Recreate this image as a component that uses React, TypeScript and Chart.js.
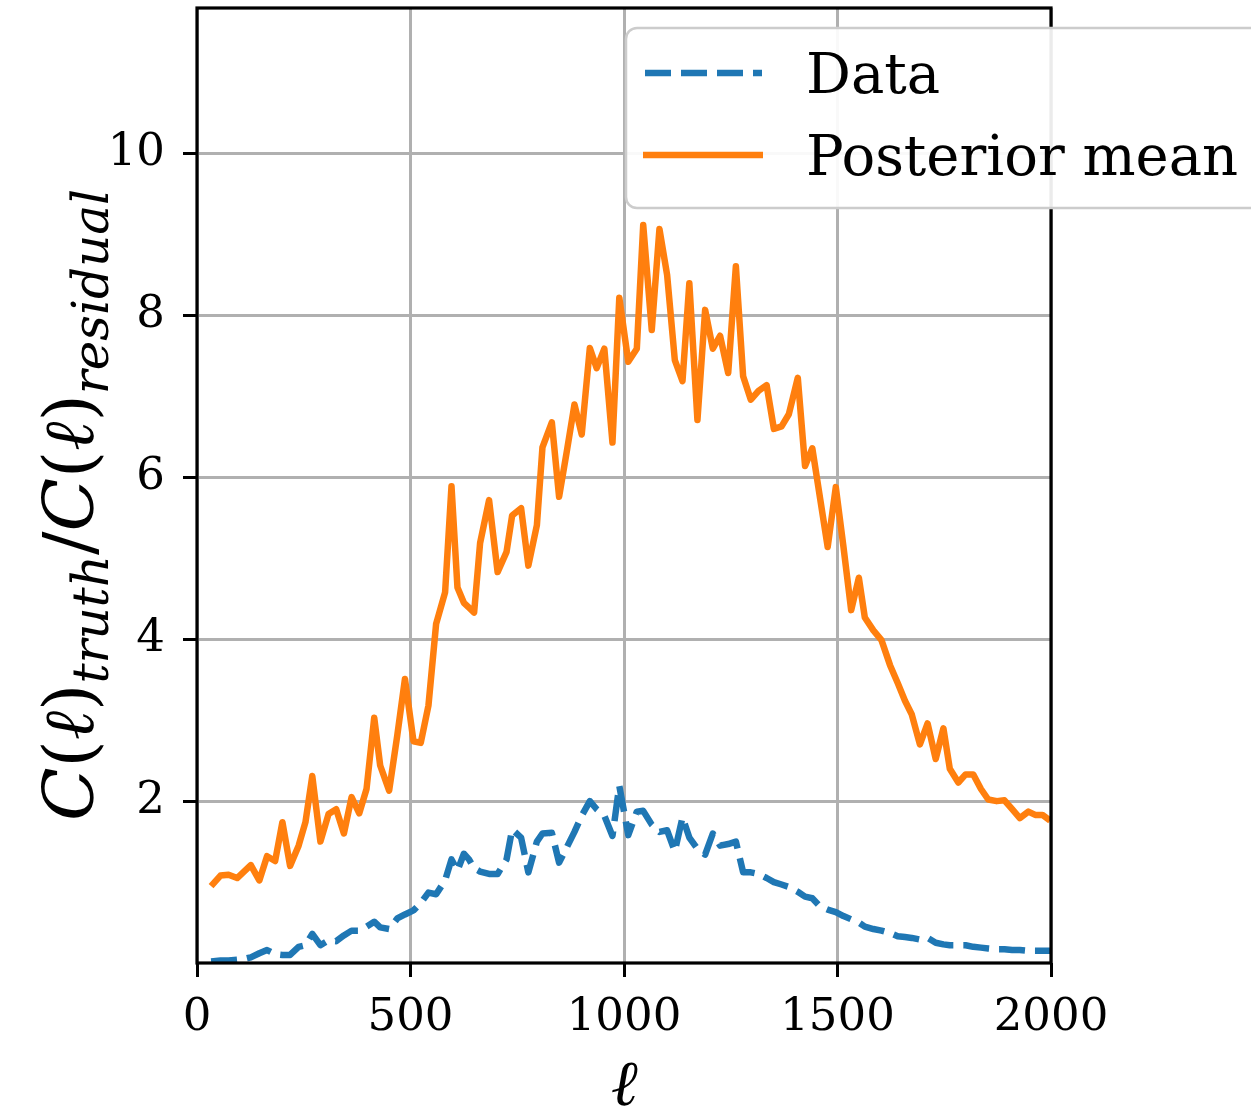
import React, { useEffect, useRef } from "react";
import { Chart, registerables } from "chart.js";

Chart.register(...registerables);

// multipole ell (x values)
const ell = [
  33, 55, 74, 94, 110, 126, 146, 164, 183, 200, 218, 238, 254, 270, 289, 308, 326, 344, 362, 380,
  397, 415, 429, 450, 469, 487, 507, 524, 542, 560, 581, 596, 610, 625, 637, 649, 663, 684, 704, 725,
  738, 759, 776, 796, 809, 831, 848, 866, 884, 901, 920, 936, 954, 973, 989, 1010, 1030, 1045, 1065, 1083,
  1101, 1119, 1137, 1153, 1172, 1190, 1208, 1225, 1244, 1262, 1279, 1297, 1315, 1334, 1351, 1369, 1386, 1407, 1424, 1441,
  1459, 1477, 1496, 1514, 1532, 1550, 1564, 1584, 1603, 1623, 1641, 1658, 1674, 1693, 1711, 1730, 1748, 1763, 1783, 1800,
  1818, 1836, 1853, 1873, 1891, 1909, 1927, 1947, 1963, 1980, 1998,
];

// "Data" series (blue dashed)
const dataValues = [
  0.02, 0.03, 0.03, 0.04, 0.05, 0.07, 0.12, 0.16, 0.11, 0.10, 0.10, 0.20, 0.22, 0.36, 0.22, 0.28, 0.27, 0.34, 0.40, 0.40,
  0.45, 0.51, 0.44, 0.42, 0.55, 0.60, 0.65, 0.74, 0.87, 0.85, 1.02, 1.28, 1.14, 1.35, 1.28, 1.17, 1.13, 1.10, 1.10, 1.28,
  1.65, 1.55, 1.12, 1.50, 1.60, 1.61, 1.24, 1.43, 1.62, 1.82, 2.00, 1.90, 1.82, 1.57, 2.19, 1.58, 1.87, 1.88, 1.71, 1.62,
  1.64, 1.38, 1.80, 1.55, 1.41, 1.34, 1.60, 1.45, 1.47, 1.50, 1.12, 1.12, 1.10, 1.05, 1.00, 0.97, 0.94, 0.88, 0.82, 0.80,
  0.70, 0.66, 0.63, 0.58, 0.54, 0.50, 0.45, 0.42, 0.40, 0.37, 0.33, 0.32, 0.31, 0.29, 0.31, 0.25, 0.23, 0.22, 0.22, 0.22,
  0.20, 0.19, 0.18, 0.17, 0.17, 0.16, 0.16, 0.15, 0.15, 0.15, 0.15,
];

// "Posterior mean" series (orange solid)
const posteriorMean = [
  0.95, 1.08, 1.09, 1.05, 1.13, 1.21, 1.02, 1.32, 1.26, 1.74, 1.20, 1.45, 1.74, 2.31, 1.50, 1.84, 1.90, 1.60, 2.05, 1.85,
  2.15, 3.03, 2.44, 2.13, 2.81, 3.51, 2.74, 2.72, 3.18, 4.19, 4.58, 5.89, 4.64, 4.45, 4.39, 4.33, 5.19, 5.72, 4.83, 5.08,
  5.53, 5.62, 4.91, 5.41, 6.37, 6.68, 5.76, 6.32, 6.90, 6.53, 7.60, 7.35, 7.59, 6.43, 8.22, 7.43, 7.59, 9.12, 7.82, 9.07,
  8.50, 7.45, 7.19, 8.40, 6.71, 8.07, 7.59, 7.75, 7.29, 8.61, 7.25, 6.96, 7.07, 7.14, 6.60, 6.63, 6.78, 7.23, 6.14, 6.36,
  5.75, 5.14, 5.88, 5.14, 4.36, 4.76, 4.27, 4.11, 3.99, 3.68, 3.46, 3.24, 3.07, 2.70, 2.96, 2.52, 2.90, 2.40, 2.23, 2.33,
  2.33, 2.15, 2.02, 2.00, 2.01, 1.90, 1.79, 1.87, 1.83, 1.83, 1.76,
];

const xTicks = [0, 500, 1000, 1500, 2000];
const yTicks = [2, 4, 6, 8, 10];
const legendLabels = ["Data", "Posterior mean"];
const xTitle = "ℓ";

const BLUE = "#1f77b4";
const ORANGE = "#ff7f0e";
const SERIF = '"DejaVu Serif", "Liberation Serif", serif';
const LW = 6.5;
const DASH = [26, 10];

export default function App() {
  const ref = useRef<HTMLCanvasElement | null>(null);

  useEffect(() => {
    const canvas = ref.current;
    if (!canvas) return;

    const overlay = {
      id: "overlay",
      afterDraw(chart: any) {
        const ctx = chart.ctx as CanvasRenderingContext2D;
        const a = chart.chartArea;
        ctx.save();
        // spines
        ctx.strokeStyle = "#000";
        ctx.lineWidth = 3.2;
        ctx.strokeRect(a.left, a.top, a.right - a.left, a.bottom - a.top);

        // x title
        ctx.fillStyle = "#000";
        ctx.font = `italic 64px ${SERIF}`;
        ctx.textAlign = "center";
        ctx.textBaseline = "alphabetic";
        ctx.fillText(xTitle, (a.left + a.right) / 2, 1105);

        // y title (math-like, rotated)
        const big = 70;
        const sub = 50;
        const segs: { t: string; f: string; dy: number }[] = [
          { t: "C", f: `italic ${big}px ${SERIF}`, dy: 0 },
          { t: "(", f: `${big}px ${SERIF}`, dy: 0 },
          { t: "ℓ", f: `italic ${big}px ${SERIF}`, dy: 0 },
          { t: ")", f: `${big}px ${SERIF}`, dy: 0 },
          { t: "truth", f: `italic ${sub}px ${SERIF}`, dy: 15 },
          { t: "/", f: `${big}px ${SERIF}`, dy: 0 },
          { t: "C", f: `italic ${big}px ${SERIF}`, dy: 0 },
          { t: "(", f: `${big}px ${SERIF}`, dy: 0 },
          { t: "ℓ", f: `italic ${big}px ${SERIF}`, dy: 0 },
          { t: ")", f: `${big}px ${SERIF}`, dy: 0 },
          { t: "residual", f: `italic ${sub}px ${SERIF}`, dy: 15 },
        ];
        let total = 0;
        const widths = segs.map((s) => {
          ctx.font = s.f;
          const w = ctx.measureText(s.t).width;
          total += w;
          return w;
        });
        ctx.translate(55, 505);
        ctx.rotate(-Math.PI / 2);
        ctx.textAlign = "left";
        let cx = -total / 2;
        segs.forEach((s, i) => {
          ctx.font = s.f;
          ctx.fillText(s.t, cx, 38 + s.dy);
          cx += widths[i];
        });
        ctx.setTransform(1, 0, 0, 1, 0, 0);

        // legend
        const bx = 626, by = 28, bw = 720, bh = 180;
        ctx.beginPath();
        (ctx as any).roundRect(bx, by, bw, bh, 11);
        ctx.fillStyle = "rgba(255,255,255,0.92)";
        ctx.fill();
        ctx.strokeStyle = "#cccccc";
        ctx.lineWidth = 2.5;
        ctx.stroke();

        ctx.lineWidth = LW;
        ctx.strokeStyle = BLUE;
        ctx.setLineDash(DASH);
        ctx.beginPath();
        ctx.moveTo(645, 73);
        ctx.lineTo(762, 73);
        ctx.stroke();
        ctx.setLineDash([]);
        ctx.strokeStyle = ORANGE;
        ctx.beginPath();
        ctx.moveTo(643, 155);
        ctx.lineTo(763, 155);
        ctx.stroke();

        ctx.fillStyle = "#000";
        ctx.font = `56px ${SERIF}`;
        ctx.textAlign = "left";
        ctx.textBaseline = "alphabetic";
        ctx.fillText(legendLabels[0], 806, 93);
        ctx.fillText(legendLabels[1], 806, 175);
        ctx.restore();
      },
    };

    const chart = new Chart(canvas, {
      type: "line",
      data: {
        datasets: [
          {
            label: legendLabels[1],
            data: ell.map((x, i) => ({ x, y: posteriorMean[i] })),
            borderColor: ORANGE,
            backgroundColor: ORANGE,
            borderWidth: LW,
            pointRadius: 0,
            tension: 0,
            borderJoinStyle: "round",
            borderCapStyle: "butt",
            fill: false,
          },
          {
            label: legendLabels[0],
            data: ell.map((x, i) => ({ x, y: dataValues[i] })),
            borderColor: BLUE,
            backgroundColor: BLUE,
            borderWidth: LW,
            borderDash: DASH,
            pointRadius: 0,
            tension: 0,
            borderJoinStyle: "round",
            borderCapStyle: "butt",
            fill: false,
          },
        ],
      },
      options: {
        responsive: false,
        devicePixelRatio: 1,
        animation: false,
        events: [],
        layout: { padding: { left: 0, top: 8, right: 200, bottom: 0 } },
        plugins: {
          legend: { display: false },
          tooltip: { enabled: false },
          title: { display: false },
        },
        scales: {
          x: {
            type: "linear",
            min: 0,
            max: 2000,
            afterBuildTicks: (s: any) => {
              s.ticks = xTicks.map((v) => ({ value: v }));
            },
            afterFit: (s: any) => {
              s.height = 151;
              s.paddingLeft = 0;
              s.paddingRight = 0;
            },
            ticks: {
              color: "#000",
              font: { family: SERIF, size: 45 },
              padding: 14,
              maxRotation: 0,
              autoSkip: false,
              callback: (v: any) => String(v),
            },
            grid: {
              color: "#b0b0b0",
              lineWidth: 3,
              tickColor: "#000",
              tickLength: 14,
              tickWidth: 3,
            },
            border: { display: false },
          },
          y: {
            type: "linear",
            min: 0,
            max: 11.8,
            afterBuildTicks: (s: any) => {
              s.ticks = yTicks.map((v) => ({ value: v }));
            },
            afterFit: (s: any) => {
              s.width = 197;
              s.paddingTop = 0;
              s.paddingBottom = 0;
            },
            ticks: {
              color: "#000",
              font: { family: SERIF, size: 45 },
              padding: 18,
              autoSkip: false,
              callback: (v: any) => String(v),
            },
            grid: {
              color: "#b0b0b0",
              lineWidth: 3,
              tickColor: "#000",
              tickLength: 14,
              tickWidth: 3,
            },
            border: { display: false },
          },
        },
      },
      plugins: [overlay],
    } as any);

    return () => chart.destroy();
  }, []);

  return (
    <div style={{ position: "absolute", left: 0, top: 0, width: 1251, height: 1114, background: "#fff" }}>
      <canvas ref={ref} width={1251} height={1114} style={{ display: "block", width: 1251, height: 1114 }} />
    </div>
  );
}
